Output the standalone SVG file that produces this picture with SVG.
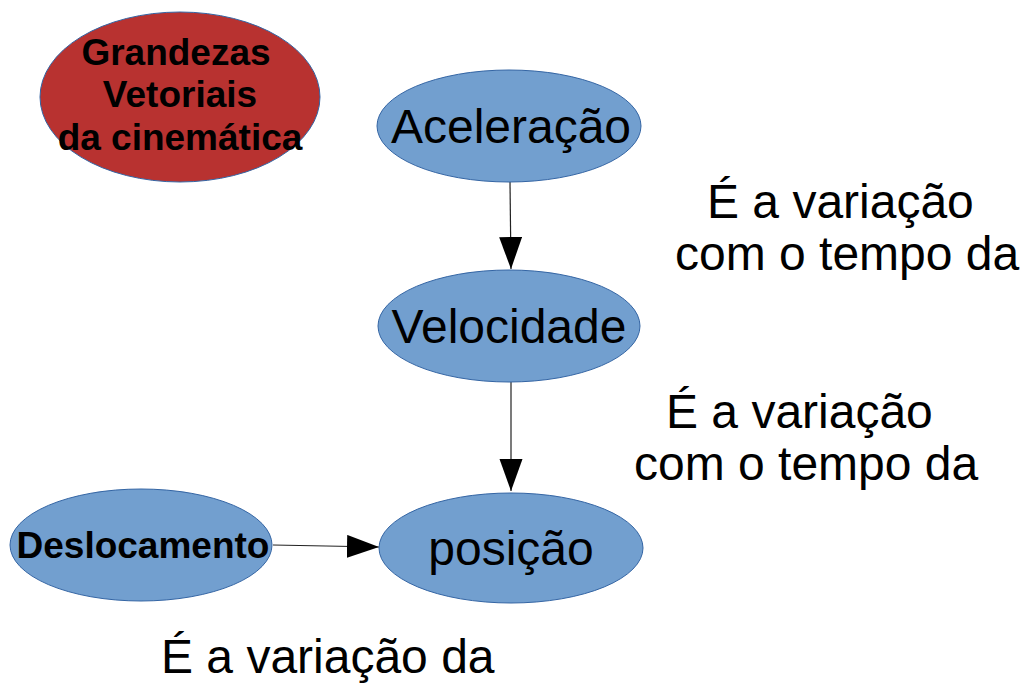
<svg xmlns="http://www.w3.org/2000/svg" width="1030" height="684" viewBox="0 0 1030 684">
<style>
.n{fill:#729fcf;stroke:#3465a4;stroke-width:1}
.r{fill:#b83230;stroke:#3465a4;stroke-width:1}
.t{font-family:"Liberation Sans",Arial,sans-serif;fill:#000}
.big{font-size:48px}
.bold{font-size:37px;font-weight:bold}
.c{stroke:#222;stroke-width:1.2;fill:none}
</style>
<defs>
<marker id="ah" markerUnits="userSpaceOnUse" markerWidth="34" markerHeight="24" refX="32" refY="11.5" orient="auto">
<path d="M0,0 L32,11.5 L0,23 Z" fill="#000"/>
</marker>
</defs>
<rect width="1030" height="684" fill="#fff"/>
<g id="connectors">
<line class="c" x1="510" y1="182" x2="511" y2="269" marker-end="url(#ah)"/>
<line class="c" x1="511" y1="382" x2="511" y2="491" marker-end="url(#ah)"/>
<line class="c" x1="273" y1="545" x2="379" y2="547" marker-end="url(#ah)"/>
</g>
<g id="grandezas">
<ellipse class="r" cx="180" cy="97" rx="140" ry="85"/>
<text class="t bold" text-anchor="middle" x="176" y="65">Grandezas</text>
<text class="t bold" text-anchor="middle" x="180" y="107">Vetoriais</text>
<text class="t bold" text-anchor="middle" x="180" y="150">da cinemática</text>
</g>
<g id="aceleracao">
<ellipse class="n" cx="509" cy="126" rx="132" ry="56"/>
<text class="t big" text-anchor="middle" x="511" y="143">Aceleração</text>
</g>
<g id="velocidade">
<ellipse class="n" cx="509" cy="326" rx="131" ry="56"/>
<text class="t big" text-anchor="middle" x="509" y="343">Velocidade</text>
</g>
<g id="posicao">
<ellipse class="n" cx="511" cy="548" rx="132" ry="55"/>
<text class="t big" text-anchor="middle" x="511" y="565">posição</text>
</g>
<g id="deslocamento">
<ellipse class="n" cx="141" cy="545" rx="131" ry="56"/>
<text class="t bold" text-anchor="middle" x="143" y="558">Deslocamento</text>
</g>
<g id="labels">
<text class="t big" x="707" y="218">É a variação</text>
<text class="t big" x="675" y="270">com o tempo da</text>
<text class="t big" x="666" y="428">É a variação</text>
<text class="t big" x="634" y="480">com o tempo da</text>
<text class="t big" x="161" y="673">É a variação da</text>
</g>
</svg>
